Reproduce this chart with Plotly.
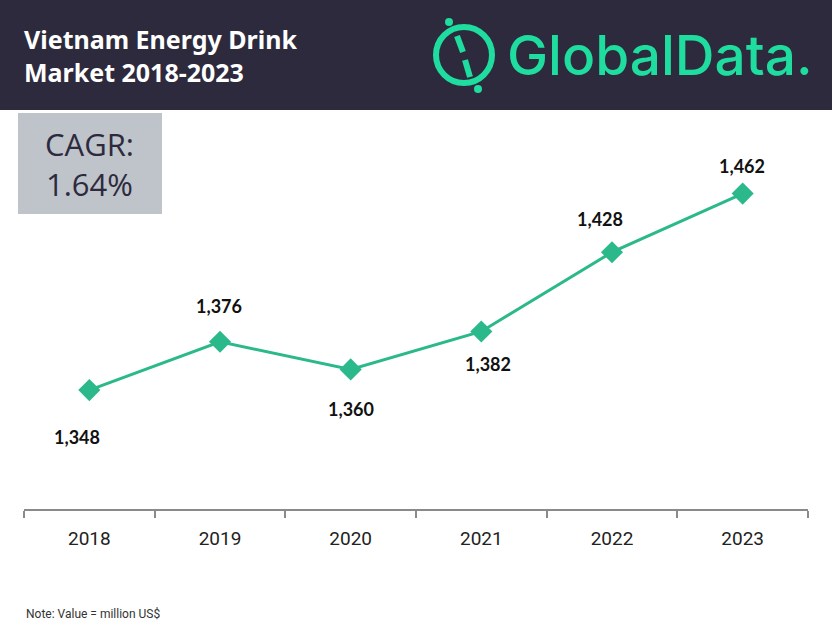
import plotly.graph_objects as go

years = ["2018", "2019", "2020", "2021", "2022", "2023"]
values = [1348, 1376, 1360, 1382, 1428, 1462]
label_texts = ["1,348", "1,376", "1,360", "1,382", "1,428", "1,462"]

# label placement (pixel offsets of label centre from its marker)
label_dx = [-12, -1, 0, 7, -12, -1]
label_dy = [-47, 36, -40, -33, 33, 28]

W, H = 832, 624
L, R, T, B = 24, 24, 110, 115
PW = W - L - R
PH = H - T - B

def px(x):
    return (x - L) / PW

def py(y):
    return (H - B - y) / PH

TEAL = "#2bb98b"
LOGO = "#1fdc9f"
DARK = "#2e2a3e"

fig = go.Figure()
fig.add_trace(go.Scatter(
    x=years, y=values, mode="lines+markers",
    line=dict(color=TEAL, width=3),
    marker=dict(symbol="diamond", size=17, color=TEAL),
    hoverinfo="skip", showlegend=False,
))

annotations = []
for i, (v, t, dx, dy) in enumerate(zip(values, label_texts, label_dx, label_dy)):
    annotations.append(dict(
        x=i, y=v, xref="x", yref="y", text=t, showarrow=False,
        xshift=dx, yshift=dy,
        font=dict(family="Lato", size=18, color="#111111", weight="bold"),
    ))

# Title
annotations.append(dict(
    x=px(22), y=py(56), xref="paper", yref="paper", xanchor="left", yanchor="middle",
    text="Vietnam Energy Drink<br>Market 2018-2023", showarrow=False, align="left",
    font=dict(family="Noto Sans", size=25, color="white", weight="bold"),
))
# Logo text
annotations.append(dict(
    x=px(505), y=py(55), xref="paper", yref="paper", xanchor="left", yanchor="middle",
    text="GlobalData.", showarrow=False,
    font=dict(family="Inter", size=55, color=LOGO, weight=500),
))
# CAGR text
annotations.append(dict(
    x=px(89), y=py(164), xref="paper", yref="paper", xanchor="center", yanchor="middle",
    text="CAGR:<br>1.64%", showarrow=False, align="center",
    font=dict(family="Open Sans", size=31, color=DARK),
))
# Note
annotations.append(dict(
    x=px(24), y=py(623), xref="paper", yref="paper", xanchor="left", yanchor="bottom",
    text="Note: Value = million US$", showarrow=False,
    font=dict(family="Roboto", size=12, color="#333333"),
))

shapes = [
    dict(type="rect", xref="paper", yref="paper", x0=px(0), x1=px(W), y0=py(0), y1=py(110),
         fillcolor=DARK, line=dict(width=0), layer="below"),
    dict(type="rect", xref="paper", yref="paper", x0=px(18), x1=px(162), y0=py(113), y1=py(214),
         fillcolor="#bec4ca", line=dict(width=0), layer="below"),
    # logo ring
    dict(type="circle", xref="paper", yref="paper", x0=px(436), x1=px(492), y0=py(27), y1=py(83),
         line=dict(color=LOGO, width=6)),
    dict(type="line", xref="paper", yref="paper", x0=px(457), x1=px(463), y0=py(36), y1=py(52),
         line=dict(color=LOGO, width=6)),
    dict(type="line", xref="paper", yref="paper", x0=px(465), x1=px(470), y0=py(60), y1=py(77),
         line=dict(color=LOGO, width=6)),
    dict(type="circle", xref="paper", yref="paper", x0=px(445), x1=px(453), y0=py(18), y1=py(26),
         fillcolor=LOGO, line=dict(width=0)),
    dict(type="circle", xref="paper", yref="paper", x0=px(474), x1=px(482), y0=py(85), y1=py(93),
         fillcolor=LOGO, line=dict(width=0)),
]

fig.update_layout(
    width=W, height=H,
    margin=dict(l=L, r=R, t=T, b=B),
    paper_bgcolor="white", plot_bgcolor="white",
    annotations=annotations, shapes=shapes,
    xaxis=dict(
        type="category", range=[-0.5, 5.5], showgrid=False, zeroline=False,
        showline=True, linecolor="#8a8a8a", linewidth=2,
        ticks="outside", tickson="boundaries", ticklen=7, tickcolor="#8a8a8a", tickwidth=1.5,
        tickfont=dict(family="Roboto", size=19, color="#222222"),
        ticklabelstandoff=11,
    ),
    yaxis=dict(range=[1279, 1510.5], visible=False, fixedrange=True),
)

fig.write_html(
    "out.html",
    config={"displayModeBar": False},
    post_script="document.body.style.margin='0';document.body.style.padding='0';",
)
